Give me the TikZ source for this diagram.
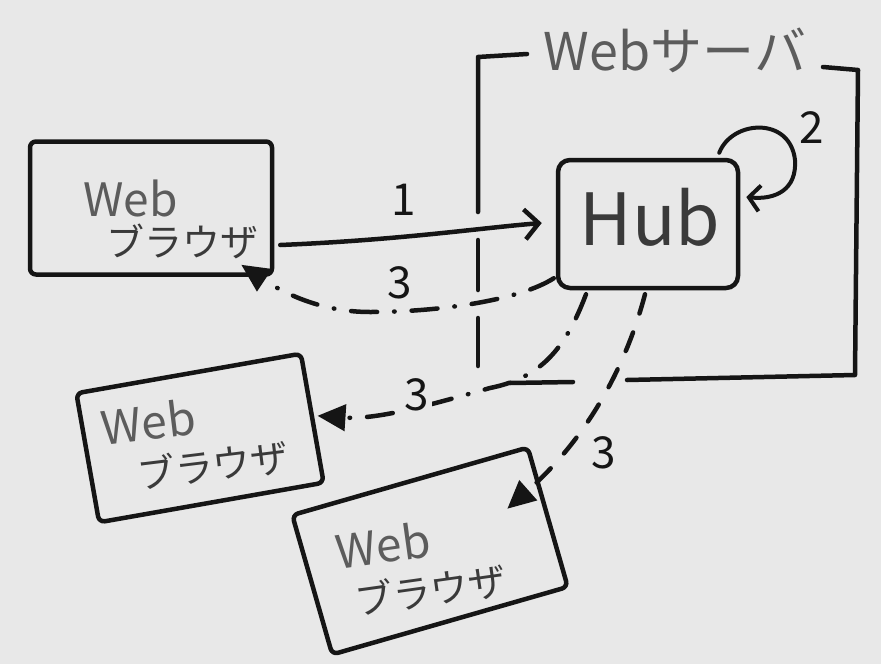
\documentclass[tikz,border=0pt]{standalone}
\usepackage{fontspec}
\setmainfont{Noto Sans CJK JP}
\usetikzlibrary{arrows.meta,calc}
\definecolor{bg}{HTML}{E8E8E8}
\definecolor{ink}{HTML}{151515}
\definecolor{pencil}{HTML}{5C5C5C}
\definecolor{pencildark}{HTML}{3A3A3A}
\newcommand\webpartfont{\fontsize{46}{40}\selectfont\color{pencil}}
\newcommand\katapartfont{\fontsize{38}{40}\selectfont\color{pencildark}}
\begin{document}
\begin{tikzpicture}[x=1pt,y=-1pt,
  inkline/.style={draw=ink,line width=4.5pt,line cap=round,line join=round},
  browser/.style={inkline,rectangle,rounded corners=6pt,inner sep=0pt},
  hubbox/.style={inkline,rectangle,rounded corners=12pt,inner sep=0pt},
  frameline/.style={inkline},
  solidarrow/.style={inkline,-{Straight Barb[length=14pt,width=30pt,line width=4.5pt]}},
  loopstyle/.style={draw=ink,line width=4pt,line cap=round,-{Straight Barb[length=11pt,width=26pt,line width=4pt]}},
  dashdotarrow/.style={inkline,dash pattern=on 26pt off 17pt on 0.5pt off 17pt,-{Triangle[length=28pt,width=26pt]}},
  dasharrow/.style={inkline,dash pattern=on 20pt off 20pt,-{Triangle[length=28pt,width=26pt]}},
  btxt/.style={align=left,inner sep=0pt,font=\fontsize{38}{40}\selectfont},
  btxtwide/.style={align=left,inner sep=0pt,font=\fontsize{38}{48}\selectfont},
  hubtxt/.style={text=pencildark,font=\fontsize{72}{72}\selectfont,inner sep=0pt},
  srvtxt/.style={text=pencil,font=\fontsize{52}{52}\selectfont,inner sep=0pt},
  numtxt/.style={text=ink,font=\fontsize{44}{44}\selectfont,inner sep=0pt},
  numgap/.style={numtxt,fill=bg,inner sep=3pt}
]
\fill[bg] (0,0) rectangle (881,664);
\useasboundingbox (0,0) rectangle (881,664);

% server frame
\node[srvtxt] (srv) at (675,50) {Webサーバ};
\draw[frameline] (527,54) -- (478,57) -- (478,212);
\draw[frameline] (478,240) -- (478,290);
\draw[frameline] (478,318) -- (478,366);
\draw[frameline] (510,383) -- (573,382);
\draw[frameline] (627,380) -- (855,375) -- (858,70) -- (823,67);

% boxes
\node[browser,minimum width=242pt,minimum height=133pt] (b1) at (151,208) {};
\node[browser,minimum width=228pt,minimum height=131pt,rotate=10] (b2) at (200,438) {};
\node[browser,minimum width=245pt,minimum height=145pt,rotate=16] (b3) at (430,551) {};
\node[hubbox,minimum width=180pt,minimum height=128pt] (hub) at (648,224) {};

% texts
\node[btxt] (b1t) at (171,219) {{\webpartfont Web}\\\hspace*{23pt}{\katapartfont ブラウザ}};
\node[btxtwide,rotate=7] (b2t) at (195,441) {{\webpartfont Web}\\\hspace*{30pt}{\katapartfont ブラウザ}};
\node[btxtwide,rotate=8] (b3t) at (421,565) {{\webpartfont Web}\\\hspace*{12pt}{\katapartfont ブラウザ}};
\node[hubtxt] (hubt) at (650,217) {Hub};

% labels
\node[numtxt] (l1) at (404,200) {1};
\node[numtxt] (l2) at (812,128) {2};
\node[numtxt] (l3a) at (400,283) {3};
\node[numtxt] (l3c) at (604,453) {3};

% connectors
\coordinate (s1) at ($(b1.east)+(6,37)$);
\coordinate (e1) at ($(hub.west)+(-14,-1)$);
\draw[solidarrow] (s1) .. controls (400,240) and (480,228) .. (e1);

\coordinate (ls) at ($(hub.north east)+(-21,-5)$);
\coordinate (le) at ($(hub.east)+(6,-27)$);
\draw[loopstyle] (ls) .. controls (732,120) and (790,116) .. (795,160) .. controls (797,190) and (775,200) .. (le);

\coordinate (sa) at ($(hub.south west)+(-2,-12)$);
\coordinate (ea) at ($(b1.south east)+(-33,-12)$);
\draw[dashdotarrow] (sa) .. controls (520,300) and (440,312) .. (370,312) .. controls (320,312) and (282,292) .. (ea);

\coordinate (sb) at ($(hub.south)+(-62,4)$);
\coordinate (eb) at ($(b2.east)+(3,-2)$);
\draw[dashdotarrow] (sb) .. controls (565,350) and (540,378) .. (490,388) .. controls (440,402) and (380,420) .. (eb);
\node[numgap] (l3b) at (417,395) {3};

\coordinate (sc) at ($(hub.south)+(-3,4)$);
\coordinate (ec) at ($(b3.north east)+(-22,64)$);
\draw[dasharrow] (sc) .. controls (625,370) and (585,440) .. (ec);
\end{tikzpicture}
\end{document}
